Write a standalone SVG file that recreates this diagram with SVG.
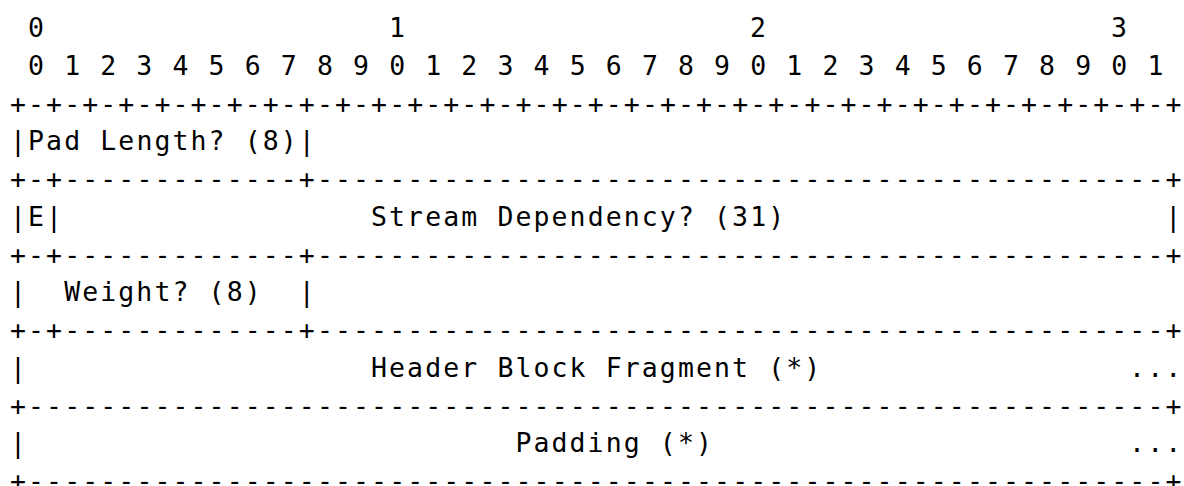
<svg xmlns="http://www.w3.org/2000/svg" width="1184" height="486" viewBox="0 0 1184 486">
<style>
text{font-family:"DejaVu Sans Mono",monospace;font-size:26.5px;letter-spacing:2.1px;fill:#000;white-space:pre}
</style>
<rect width="1184" height="486" fill="#fff"/>
<g id="ruler">
<text x="28.05" y="37">0</text>
<text x="389.05" y="37">1</text>
<text x="750.05" y="37">2</text>
<text x="1111.05" y="37">3</text>
<text x="28.05" y="74.75">0 1 2 3 4 5 6 7 8 9 0 1 2 3 4 5 6 7 8 9 0 1 2 3 4 5 6 7 8 9 0 1</text>
</g>
<g id="connectors">
<text x="10" y="112.5">+-+-+-+-+-+-+-+-+-+-+-+-+-+-+-+-+-+-+-+-+-+-+-+-+-+-+-+-+-+-+-+-+</text>
<text x="10" y="188">+-+-------------+-----------------------------------------------+</text>
<text x="10" y="263.5">+-+-------------+-----------------------------------------------+</text>
<text x="10" y="339">+-+-------------+-----------------------------------------------+</text>
<text x="10" y="414.5">+---------------------------------------------------------------+</text>
<text x="10" y="490">+---------------------------------------------------------------+</text>
</g>
<g id="pad-length">
<text x="10" y="150.25">|Pad Length? (8)|</text>
</g>
<g id="stream-dependency">
<text x="10" y="225.75">|E|</text>
<text x="371" y="225.75">Stream Dependency? (31)</text>
<text x="1165.2" y="225.75">|</text>
</g>
<g id="weight">
<text x="10" y="301.25">|</text>
<text x="64.15" y="301.25">Weight? (8)</text>
<text x="298.8" y="301.25">|</text>
</g>
<g id="header-block-fragment">
<text x="10" y="376.75">|</text>
<text x="371" y="376.75">Header Block Fragment (*)</text>
<text x="1129.1" y="376.75">...</text>
</g>
<g id="padding">
<text x="10" y="452.25">|</text>
<text x="515.4" y="452.25">Padding (*)</text>
<text x="1129.1" y="452.25">...</text>
</g>
</svg>
